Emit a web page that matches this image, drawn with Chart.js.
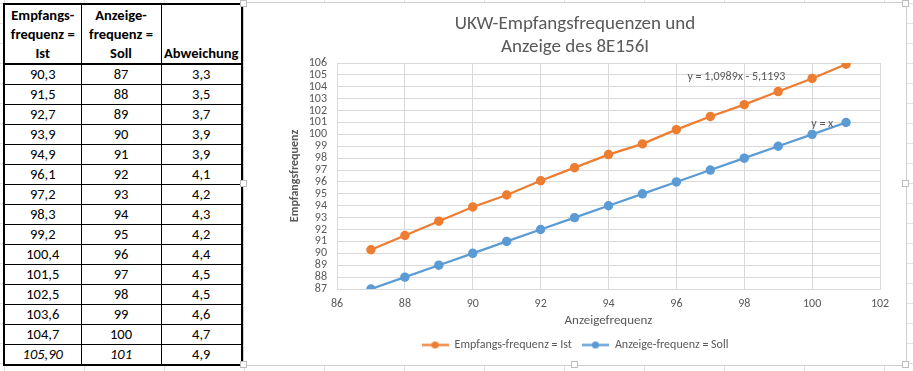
<!DOCTYPE html>
<html>
<head>
<meta charset="utf-8">
<script src="https://cdn.jsdelivr.net/npm/chart.js@4"></script>
<style>
  html, body { margin: 0; padding: 0; }
  body {
    width: 913px; height: 371px; overflow: hidden; position: relative;
    background-color: #fff;
    background-image:
      linear-gradient(to right, #e1e1e1 1px, transparent 1px),
      linear-gradient(to bottom, #e1e1e1 1px, transparent 1px);
    background-size: 80px 20px;
    background-position: 4px 3px;
    font-family: Carlito, Lato, sans-serif;
  }
  #sheet {
    position: absolute; left: 3px; top: 3px;
    border-collapse: collapse; background: #fff;
    border: 2px solid #000; table-layout: fixed;
    font-size: 14.5px; color: #000;
  }
  #sheet th, #sheet td { border: 1px solid #000; padding: 0; text-align: center; }
  #sheet th { height: 58px; vertical-align: bottom; line-height: 19px; font-weight: bold; border-bottom: 2px solid #000; }
  #sheet td { height: 19px; line-height: 19px; }
  #sheet td.it { font-style: italic; }
  #frame {
    position: absolute; left: 243px; top: 2px; width: 662px; height: 362px;
    border: 1px solid #cfcfcf; background: #fff;
  }
  #chartbox { position: absolute; left: 245px; top: 3px; width: 660px; height: 361px; }
  .h { position: absolute; width: 5px; height: 5px; border: 1px solid #bdbdbd; background: #fff; }
</style>
</head>
<body>
<table id="sheet">
  <colgroup><col style="width:77px"><col style="width:80px"><col style="width:81px"></colgroup>
  <thead><tr id="head"></tr></thead>
  <tbody id="rows"></tbody>
</table>
<div id="frame"></div>
<div id="chartbox"><canvas id="chart" width="660" height="361"></canvas></div>
<div class="h" style="left:240px;top:0px"></div>
<div class="h" style="left:902px;top:0px"></div>
<div class="h" style="left:240px;top:180px"></div>
<div class="h" style="left:902px;top:180px"></div>
<div class="h" style="left:240px;top:361px"></div>
<div class="h" style="left:571px;top:361px"></div>
<div class="h" style="left:902px;top:361px"></div>
<script>
// table / chart data
const headers = ['Empfangs-<br>frequenz =<br>Ist', 'Anzeige-<br>frequenz =<br>Soll', 'Abweichung'];
const soll = [87, 88, 89, 90, 91, 92, 93, 94, 95, 96, 97, 98, 99, 100, 101];
const ist = [90.3, 91.5, 92.7, 93.9, 94.9, 96.1, 97.2, 98.3, 99.2, 100.4, 101.5, 102.5, 103.6, 104.7, 105.9];
const abweichung = [3.3, 3.5, 3.7, 3.9, 3.9, 4.1, 4.2, 4.3, 4.2, 4.4, 4.5, 4.5, 4.6, 4.7, 4.9];
const seriesNames = ['Empfangs-frequenz = Ist', 'Anzeige-frequenz = Soll'];
const equations = ['y = 1,0989x - 5,1193', 'y = x'];
const chartTitle = ['UKW-Empfangsfrequenzen und', 'Anzeige des 8E156I'];
const xTitle = 'Anzeigefrequenz';
const yTitle = 'Empfangsfrequenz';

const de = (v, d) => v.toFixed(d).replace('.', ',');

// build the sheet
document.getElementById('head').innerHTML = headers.map(h => '<th>' + h + '</th>').join('');
var body = '';
soll.forEach((s, i) => {
    var last = i === soll.length - 1;
    var cls = last ? ' class="it"' : '';
    body += '<tr><td' + cls + '>' + de(ist[i], last ? 2 : 1) + '</td><td' + cls + '>' + s + '</td><td>' + de(abweichung[i], 1) + '</td></tr>';
});
document.getElementById('rows').innerHTML = body;

const FONT = 'Carlito, Lato, sans-serif';
const GREY = '#595959';
const ORANGE = '#ED7D31';
const BLUE = '#5B9BD5';

// legend icon: short line with a dot
function legendIcon(color) {
    var c = document.createElement('canvas');
    c.width = 27; c.height = 9;
    var g = c.getContext('2d');
    g.strokeStyle = color; g.lineWidth = 2.25;
    g.beginPath(); g.moveTo(0, 4.5); g.lineTo(27, 4.5); g.stroke();
    g.fillStyle = color;
    g.beginPath(); g.arc(13.5, 4.5, 3.6, 0, Math.PI * 2); g.fill();
    return c;
}
const icons = [legendIcon(ORANGE), legendIcon(BLUE)];

// trendline equation labels, anchored in data units
const equationLabels = {
    id: 'equationLabels',
    afterDatasetsDraw(chart, args, opts) {
        var ctx = chart.ctx, xs = chart.scales.x, ys = chart.scales.y;
        ctx.save();
        ctx.font = '12px ' + FONT;
        ctx.fillStyle = GREY;
        ctx.textAlign = 'center';
        ctx.textBaseline = 'middle';
        opts.anchors.forEach((a, i) => {
            ctx.fillText(equations[i], xs.getPixelForValue(a[0]), ys.getPixelForValue(a[1]));
        });
        ctx.restore();
    }
};

new Chart(document.getElementById('chart'), {
    type: 'scatter',
    data: {
        datasets: [
            {
                label: seriesNames[0],
                data: soll.map((s, i) => ({x: s, y: ist[i]})),
                showLine: true,
                borderColor: ORANGE, backgroundColor: ORANGE,
                borderWidth: 2.25, pointRadius: 3.6, pointHoverRadius: 3.6
            },
            {
                label: seriesNames[1],
                data: soll.map(s => ({x: s, y: s})),
                showLine: true,
                borderColor: BLUE, backgroundColor: BLUE,
                borderWidth: 2.25, pointRadius: 3.6, pointHoverRadius: 3.6
            }
        ]
    },
    options: {
        responsive: false,
        animation: false,
        layout: {padding: {left: 0, right: 0, top: 0, bottom: 3}},
        scales: {
            x: {
                type: 'linear', min: 86, max: 102,
                grid: {color: '#D9D9D9', drawTicks: false},
                border: {color: '#D9D9D9'},
                ticks: {stepSize: 2, padding: 8, color: GREY, font: {family: FONT, size: 12}},
                title: {display: true, text: xTitle, color: GREY, padding: 0, font: {family: FONT, size: 13}},
                afterFit: s => { s.height = 40; }
            },
            y: {
                type: 'linear', min: 87, max: 106,
                grid: {color: '#D9D9D9', drawTicks: false},
                border: {color: '#D9D9D9'},
                ticks: {stepSize: 1, autoSkip: false, padding: 10, color: GREY, font: {family: FONT, size: 12, lineHeight: 1}},
                title: {display: true, text: yTitle, color: GREY, padding: {top: 43, bottom: 0}, font: {family: FONT, size: 12, weight: 'bold'}},
                afterFit: s => { s.width = 92; }
            },
            yRight: {
                type: 'linear', position: 'right', display: true,
                grid: {display: false, drawTicks: false},
                border: {display: false},
                ticks: {display: false},
                afterFit: s => { s.width = 25; }
            }
        },
        plugins: {
            title: {
                display: true, text: chartTitle, color: GREY,
                font: {family: FONT, size: 19, weight: 'normal', lineHeight: 1.2},
                padding: {top: 9.6, bottom: 4.8}
            },
            legend: {
                position: 'bottom',
                labels: {
                    usePointStyle: true, pointStyleWidth: 27, padding: 10,
                    color: GREY, font: {family: FONT, size: 12},
                    generateLabels: chart => Chart.defaults.plugins.legend.labels.generateLabels(chart)
                        .map((it, i) => Object.assign(it, {pointStyle: icons[i]}))
                }
            },
            tooltip: {enabled: false},
            equationLabels: {anchors: [[97.77, 104.82], [100.3, 100.9]]}
        }
    },
    plugins: [equationLabels]
});
</script>
</body>
</html>
